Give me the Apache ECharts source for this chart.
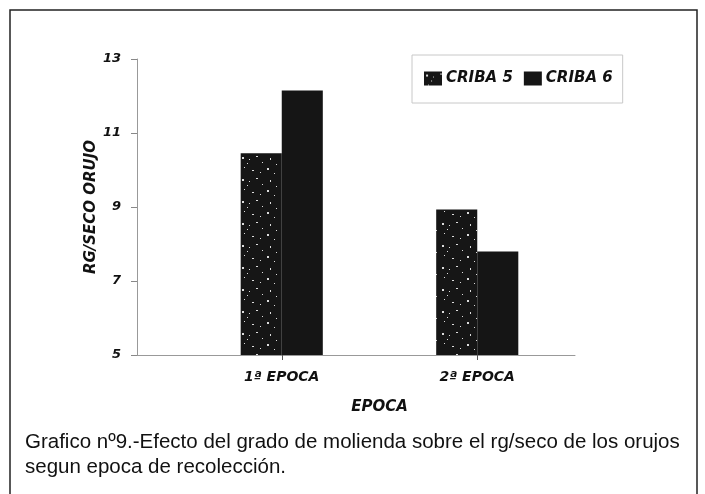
<!DOCTYPE html>
<html>
<head>
<meta charset="utf-8">
<style>
html,body{margin:0;padding:0;background:#fff;}
#chart{width:705px;height:494px;}
</style>
<script src="https://cdn.jsdelivr.net/npm/echarts@6/dist/echarts.min.js"></script>
</head>
<body>
<div id="chart"></div>
<script>
// ---- data ----
var categories = ['1ª EPOCA', '2ª EPOCA'];
var seriesNames = ['CRIBA 5', 'CRIBA 6'];
var criba5 = [10.45, 8.93];
var criba6 = [12.15, 7.8];
var yTicks = [5, 7, 9, 11, 13];
var yAxisName = 'RG/SECO ORUJO';
var xAxisName = 'EPOCA';
var caption = ['Grafico nº9.-Efecto del grado de molienda sobre el rg/seco de los orujos',
               'segun epoca de recolección.'];

// speckled fill pattern for CRIBA 5
function makePattern() {
  var c = document.createElement('canvas');
  c.width = 40; c.height = 22;
  var g = c.getContext('2d');
  g.fillStyle = '#161616';
  g.fillRect(0, 0, 40, 22);
  var specks = [[2,3,2,2],[9,5,1,1],[16,2,2,1],[22,8,1,1],[30,4,1,2],[36,10,1,1],
                [4,13,1,1],[12,16,2,1],[20,18,1,1],[27,14,2,2],[34,19,1,1],[7,9,1,1]];
  g.fillStyle = '#dcdcdc';
  specks.forEach(function (s) { g.fillRect(s[0], s[1], s[2], s[3]); });
  return c;
}
var pattern = { image: makePattern(), repeat: 'repeat' };

var boldFont = { fontFamily: 'DejaVu Sans', fontWeight: 'bold', fontStyle: 'italic', color: '#111' };

var chart = echarts.init(document.getElementById('chart'), null, { renderer: 'canvas' });
chart.setOption({
  backgroundColor: '#fff',
  animation: false,
  grid: { left: 184, right: 130, top: 59, bottom: 139, containLabel: false },
  legend: {
    left: 412, top: 55,
    padding: [16, 10, 17, 12],
    borderColor: '#c8c8c8', borderWidth: 1,
    itemWidth: 18, itemHeight: 14, itemGap: 11,
    icon: 'rect',
    textStyle: Object.assign({ fontSize: 15, padding: [0, 0, 0, -1] }, boldFont),
    data: seriesNames
  },
  xAxis: {
    type: 'category',
    data: categories,
    name: xAxisName,
    nameLocation: 'middle',
    nameGap: 45,
    nameMoveOverlap: false,
    nameTextStyle: Object.assign({ fontSize: 15 }, boldFont),
    axisLine: { lineStyle: { color: '#999', width: 1 } },
    axisTick: { show: true, alignWithLabel: true, length: 5, lineStyle: { color: '#555' } },
    axisLabel: Object.assign({ fontSize: 14, margin: 15 }, boldFont),
    splitLine: { show: false }
  },
  yAxis: {
    type: 'value',
    min: yTicks[0], max: yTicks[yTicks.length - 1], interval: 2,
    offset: 47,
    name: yAxisName,
    nameLocation: 'middle',
    nameGap: 38,
    nameMoveOverlap: false,
    nameRotate: 90,
    nameTextStyle: Object.assign({ fontSize: 15 }, boldFont),
    axisLine: { show: true, lineStyle: { color: '#999', width: 1 } },
    axisTick: { show: true, length: 6, lineStyle: { color: '#888' } },
    axisLabel: Object.assign({ fontSize: 13, margin: 16 }, boldFont),
    splitLine: { show: false }
  },
  series: [
    { name: seriesNames[0], type: 'bar', data: criba5, barWidth: '21%', barGap: '0%',
      itemStyle: { color: pattern } },
    { name: seriesNames[1], type: 'bar', data: criba6, barWidth: '21%', barGap: '0%',
      itemStyle: { color: '#151515' } }
  ],
  graphic: [
    { type: 'rect', shape: { x: 10, y: 10, width: 687, height: 500 },
      style: { fill: 'none', stroke: '#222', lineWidth: 1.5 }, silent: true },
    { type: 'line', shape: { x1: 137, y1: 355.5, x2: 184, y2: 355.5 },
      style: { stroke: '#999', lineWidth: 1 }, silent: true },
    { type: 'text', left: 25, top: 430,
      style: { text: caption.join('\n'), fontFamily: 'Liberation Sans', fontSize: 20.5,
               lineHeight: 25, fill: '#111' } }
  ]
});
</script>
</body>
</html>
